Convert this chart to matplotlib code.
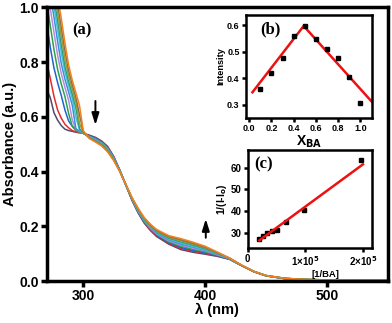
import numpy as np
import matplotlib
matplotlib.use("Agg")
import matplotlib.pyplot as plt

plt.rcParams['font.family'] = ['Liberation Sans', 'DejaVu Sans']
plt.rcParams['font.weight'] = 'bold'
plt.rcParams['axes.labelweight'] = 'bold'

# titration spectra, wavelength in nm
wavelength = [270, 273, 276, 279, 282, 285, 288, 291, 294, 297, 300,
              305, 310, 315, 320, 325, 330, 335, 340, 345, 350, 355, 360,
              370, 380, 390, 400, 410, 420,
              430, 440, 450, 465, 480, 500, 525, 550]

absorbance = [
    [0.70, 0.67, 0.615, 0.588, 0.568, 0.555, 0.55, 0.547, 0.544, 0.542, 0.54,
     0.533, 0.525, 0.512, 0.492, 0.455, 0.405, 0.350, 0.295, 0.249, 0.212, 0.185, 0.163,
     0.135, 0.115, 0.105, 0.098, 0.090, 0.079,
     0.056, 0.034, 0.019, 0.009, 0.005, 0.004, 0.003, 0.003],
    [0.80, 0.74, 0.675, 0.625, 0.595, 0.573, 0.56, 0.55, 0.545, 0.542, 0.54,
     0.532, 0.523, 0.510, 0.490, 0.454, 0.405, 0.350, 0.296, 0.251, 0.214, 0.187, 0.166,
     0.138, 0.119, 0.109, 0.101, 0.092, 0.080,
     0.056, 0.034, 0.019, 0.009, 0.005, 0.004, 0.003, 0.003],
    [0.942, 0.854, 0.779, 0.725, 0.678, 0.625, 0.585, 0.566, 0.555, 0.546, 0.54,
     0.531, 0.522, 0.508, 0.488, 0.452, 0.404, 0.350, 0.297, 0.252, 0.216, 0.190, 0.168,
     0.141, 0.123, 0.112, 0.104, 0.093, 0.080,
     0.056, 0.034, 0.019, 0.009, 0.005, 0.004, 0.003, 0.003],
    [1.016, 0.933, 0.846, 0.773, 0.72, 0.674, 0.613, 0.565, 0.55, 0.544, 0.54,
     0.529, 0.520, 0.507, 0.486, 0.451, 0.404, 0.351, 0.298, 0.254, 0.218, 0.192, 0.171,
     0.144, 0.127, 0.116, 0.107, 0.095, 0.081,
     0.056, 0.034, 0.019, 0.009, 0.005, 0.004, 0.003, 0.003],
    [1.083, 0.995, 0.909, 0.825, 0.758, 0.708, 0.661, 0.589, 0.555, 0.546, 0.54,
     0.528, 0.518, 0.505, 0.484, 0.449, 0.403, 0.351, 0.299, 0.256, 0.220, 0.194, 0.173,
     0.147, 0.131, 0.120, 0.110, 0.096, 0.081,
     0.056, 0.034, 0.019, 0.009, 0.005, 0.004, 0.003, 0.003],
    [1.147, 1.047, 0.965, 0.876, 0.795, 0.738, 0.691, 0.643, 0.556, 0.548, 0.54,
     0.527, 0.517, 0.503, 0.482, 0.448, 0.403, 0.351, 0.300, 0.258, 0.222, 0.197, 0.176,
     0.151, 0.135, 0.124, 0.113, 0.098, 0.082,
     0.057, 0.034, 0.019, 0.009, 0.005, 0.004, 0.003, 0.003],
    [1.199, 1.093, 1.003, 0.918, 0.833, 0.764, 0.713, 0.666, 0.598, 0.552, 0.541,
     0.526, 0.515, 0.501, 0.480, 0.446, 0.402, 0.351, 0.301, 0.259, 0.224, 0.199, 0.179,
     0.154, 0.139, 0.127, 0.115, 0.100, 0.082,
     0.057, 0.035, 0.020, 0.010, 0.006, 0.004, 0.003, 0.003],
    [1.239, 1.13, 1.032, 0.951, 0.862, 0.784, 0.729, 0.683, 0.631, 0.556, 0.542,
     0.525, 0.513, 0.499, 0.478, 0.445, 0.402, 0.351, 0.302, 0.261, 0.226, 0.201, 0.181,
     0.157, 0.143, 0.131, 0.118, 0.101, 0.083,
     0.057, 0.035, 0.020, 0.010, 0.006, 0.004, 0.003, 0.003],
    [1.277, 1.169, 1.067, 0.981, 0.894, 0.811, 0.749, 0.70, 0.653, 0.575, 0.543,
     0.523, 0.511, 0.498, 0.476, 0.443, 0.401, 0.352, 0.303, 0.263, 0.228, 0.203, 0.184,
     0.160, 0.147, 0.135, 0.121, 0.103, 0.083,
     0.057, 0.035, 0.020, 0.010, 0.006, 0.004, 0.003, 0.003],
    [1.313, 1.21, 1.103, 1.011, 0.927, 0.841, 0.77, 0.717, 0.67, 0.607, 0.546,
     0.522, 0.510, 0.496, 0.474, 0.442, 0.401, 0.352, 0.304, 0.264, 0.230, 0.206, 0.186,
     0.163, 0.151, 0.138, 0.124, 0.104, 0.084,
     0.057, 0.035, 0.020, 0.010, 0.006, 0.004, 0.003, 0.003],
    [1.35, 1.25, 1.14, 1.04, 0.96, 0.87, 0.79, 0.734, 0.688, 0.64, 0.55,
     0.521, 0.508, 0.494, 0.472, 0.440, 0.400, 0.352, 0.305, 0.266, 0.232, 0.208, 0.189,
     0.166, 0.155, 0.142, 0.127, 0.106, 0.084,
     0.058, 0.035, 0.020, 0.010, 0.006, 0.004, 0.003, 0.003],
]

curve_colors = ['#4d4d6b', '#e8282c', '#1f64cc', '#2ca04a', '#b48ae0', '#3a8fd8',
                '#45c4dc', '#25a08a', '#9c9c32', '#8b7048', '#f58220']

# (b) Job's plot
x_ba = [0.1, 0.2, 0.3, 0.4, 0.5, 0.6, 0.7, 0.8, 0.9, 1.0]
intensity = [0.36, 0.42, 0.478, 0.561, 0.597, 0.548, 0.512, 0.477, 0.406, 0.307]
job_fit_x = [0.03, 0.49, 1.1]
job_fit_y = [0.347, 0.598, 0.312]

# (c) Benesi-Hildebrand plot
inv_ba = [0.2e5, 0.27e5, 0.33e5, 0.42e5, 0.5e5, 0.66e5, 0.98e5, 1.96e5]
inv_dI = [27.3, 28.5, 30.0, 30.7, 31.4, 35.0, 40.4, 63.5]
bh_fit_x = [0.2e5, 2.0e5]
bh_fit_y = [26.5, 61.5]


def style_axes(ax, lw, size, length=3):
    for s in ax.spines.values():
        s.set_linewidth(lw)
    ax.tick_params(direction='out', width=lw, length=length, labelsize=size, pad=1.5)
    for lab in ax.get_xticklabels() + ax.get_yticklabels():
        lab.set_fontweight('bold')


arrow_style = dict(arrowstyle='-|>,head_length=0.7,head_width=0.22', color='k',
                   lw=1.4, mutation_scale=10)

fig = plt.figure(figsize=(3.92, 3.23), dpi=100)

ax = fig.add_axes([0.119, 0.130, 0.871, 0.847])
for spec, c in zip(absorbance, curve_colors):
    ax.plot(wavelength, spec, color=c, lw=1.1)
ax.set_xlim(270, 550)
ax.set_ylim(0, 1.0)
ax.set_xticks([300, 400, 500])
ax.set_yticks([0.0, 0.2, 0.4, 0.6, 0.8, 1.0])
style_axes(ax, 2.5, 10, length=4)
ax.set_xlabel('λ (nm)', fontsize=10.5, fontweight='bold', labelpad=0)
ax.set_ylabel('Absorbance (a.u.)', fontsize=10.5, fontweight='bold', labelpad=2)
ax.text(299, 0.915, '(a)', family='Liberation Serif', fontsize=12,
        fontweight='bold', ha='center', va='center')
ax.annotate('', xy=(310, 0.56), xytext=(310, 0.668), arrowprops=arrow_style)
ax.annotate('', xy=(400.5, 0.237), xytext=(400.5, 0.148), arrowprops=arrow_style)

# inset (b)
axb = fig.add_axes([0.627, 0.635, 0.321, 0.319])
axb.plot(job_fit_x, job_fit_y, color='#ee1111', lw=1.8)
axb.plot(x_ba, intensity, 's', color='k', ms=3.2)
axb.set_xlim(-0.03, 1.1)
axb.set_ylim(0.25, 0.64)
axb.set_xticks([0.0, 0.2, 0.4, 0.6, 0.8, 1.0])
axb.set_yticks([0.3, 0.4, 0.5, 0.6])
style_axes(axb, 1.8, 6.5)
axb.set_ylabel('Intensity', fontsize=6.6, fontweight='bold', labelpad=1)
axb.set_xlabel('X$_{\\mathbf{BA}}$', fontsize=10, fontweight='bold', labelpad=0)
axb.text(0.19, 0.585, '(b)', family='Liberation Serif', fontsize=12,
         fontweight='bold', ha='center', va='center')

# inset (c)
axc = fig.add_axes([0.632, 0.232, 0.316, 0.303])
axc.plot(inv_ba, inv_dI, 's', color='k', ms=3.2)
axc.plot(bh_fit_x, bh_fit_y, color='#ee1111', lw=1.8)
axc.set_xlim(0, 2.15e5)
axc.set_ylim(23, 68)
axc.set_xticks([0, 1e5, 2e5])
axc.set_xticklabels(['0', '1×10$^{\\mathbf{5}}$', '2×10$^{\\mathbf{5}}$'])
axc.set_yticks([30, 40, 50, 60])
style_axes(axc, 1.8, 7)
axc.set_ylabel('1/(I-I$_{\\mathbf{o}}$)', fontsize=7.5, fontweight='bold', labelpad=1)
axc.set_xlabel('[1/BA]', fontsize=6.8, fontweight='bold')
axc.xaxis.set_label_coords(0.63, -0.22)
axc.text(0.27e5, 61.5, '(c)', family='Liberation Serif', fontsize=12,
         fontweight='bold', ha='center', va='center')

fig.savefig('out.png', dpi=100)
